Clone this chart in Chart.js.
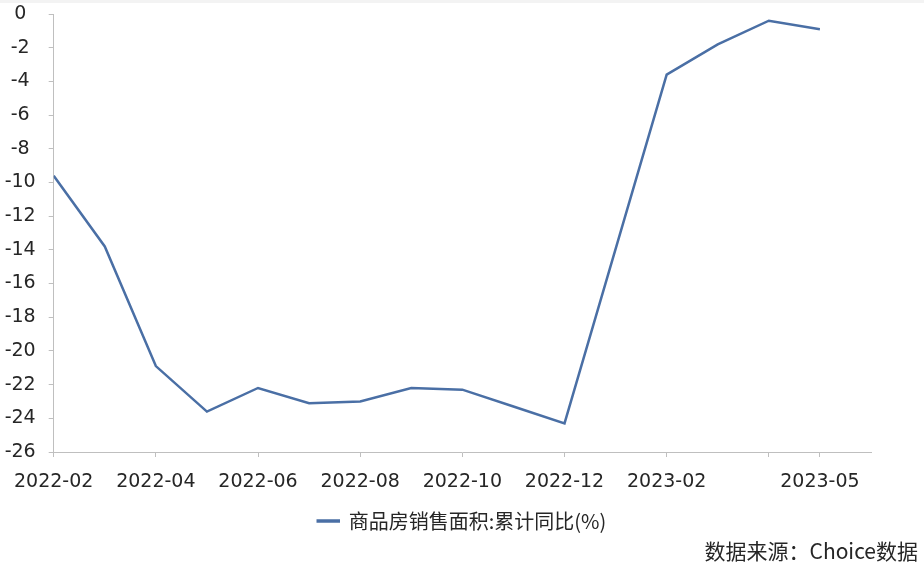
<!DOCTYPE html>
<html>
<head>
<meta charset="utf-8">
<script src="https://cdn.jsdelivr.net/npm/chart.js@4"></script>
<style>
  html, body { margin: 0; padding: 0; background: #fff; }
  #wrap { position: relative; width: 924px; height: 567px; }
  #topband { position: absolute; left: 0; top: 0; width: 924px; height: 3px; background: #f3f3f3; }
  #source { position: absolute; right: 6px; top: 535px; font: 21px "Noto Sans CJK SC", sans-serif; color: #262626; }
</style>
</head>
<body>
<div id="wrap">
  <canvas id="salesChart" width="924" height="567"></canvas>
  <div id="topband"></div>
  <div id="source">数据来源：Choice数据</div>
</div>
<script>
// 商品房销售面积 累计同比 (%)
const months = ["2022-02", "2022-03", "2022-04", "2022-05", "2022-06", "2022-07", "2022-08",
    "2022-09", "2022-10", "2022-11", "2022-12", "2023-02", "2023-03", "2023-04", "2023-05"];
const salesYoY = [-9.6, -13.8, -20.9, -23.6, -22.2, -23.1, -23.0, -22.2, -22.3, -23.3, -24.3,
    -3.6, -1.8, -0.4, -0.9];
const tickMonths = ["2022-02", "2022-04", "2022-06", "2022-08", "2022-10", "2022-12",
    "2023-02", "2023-04", "2023-05"];
const labelMonths = ["2022-02", "2022-04", "2022-06", "2022-08", "2022-10", "2022-12",
    "2023-02", "2023-05"];
const seriesName = "商品房销售面积:累计同比(%)";

// mois -> index continu (axe temporel, 2022-02 = 0)
function monthIndex(s) {
    const [y, m] = s.split("-").map(Number);
    return (y - 2022) * 12 + m - 2;
}
function indexToMonth(i) {
    const total = i + 1;
    const y = 2022 + Math.floor(total / 12);
    const m = (total % 12) + 1;
    return y + "-" + String(m).padStart(2, "0");
}

const lineColor = "#4A6FA5";
const axisColor = "#BFBFBF";
const textColor = "#262626";

// centre la légende sur toute la largeur du canvas
const legendFullWidth = {
    id: "legendFullWidth",
    afterLayout(chart) {
        if (chart.legend) {
            chart.legend.left = 0;
            chart.legend.right = chart.width;
            chart.legend.width = chart.width;
        }
    },
};

new Chart(document.getElementById("salesChart"), {
    type: "line",
    data: {
        datasets: [{
            label: seriesName,
            data: months.map((m, i) => ({ x: monthIndex(m), y: salesYoY[i] })),
            borderColor: lineColor,
            backgroundColor: lineColor,
            borderWidth: 2.5,
            pointRadius: 0,
            tension: 0,
        }],
    },
    plugins: [legendFullWidth],
    options: {
        responsive: false,
        animation: false,
        layout: { padding: { top: 14, right: 53, left: 0, bottom: 26 } },
        plugins: {
            tooltip: { enabled: false },
            legend: {
                position: "bottom",
                labels: {
                    color: textColor,
                    font: { family: "'Noto Sans CJK SC', sans-serif", size: 20 },
                    boxWidth: 21,
                    boxHeight: 1,
                    padding: 10,
                },
            },
        },
        scales: {
            x: {
                type: "linear",
                min: 0,
                max: monthIndex("2023-06"),
                afterFit: (s) => { s.height = 49; },
                afterBuildTicks: (s) => {
                    s.ticks = tickMonths.map((m) => ({ value: monthIndex(m) }));
                },
                border: { color: axisColor, width: 1 },
                grid: { drawOnChartArea: false, color: axisColor, tickLength: 5 },
                ticks: {
                    autoSkip: false,
                    maxRotation: 0,
                    padding: 14,
                    color: textColor,
                    font: { family: "'DejaVu Sans', sans-serif", size: 19 },
                    callback: (v) => {
                        const m = indexToMonth(v);
                        return labelMonths.includes(m) ? m : "";
                    },
                },
            },
            y: {
                min: -26,
                max: 0,
                afterFit: (s) => {
                    s.width = 52;
                    s.paddingTop = 0;
                    s.paddingBottom = 0;
                },
                border: { color: axisColor, width: 1 },
                grid: { drawOnChartArea: false, color: axisColor, tickLength: 5 },
                ticks: {
                    stepSize: 2,
                    crossAlign: "center",
                    padding: 13,
                    color: textColor,
                    font: { family: "'DejaVu Sans', sans-serif", size: 19 },
                },
            },
        },
    },
});
</script>
</body>
</html>
